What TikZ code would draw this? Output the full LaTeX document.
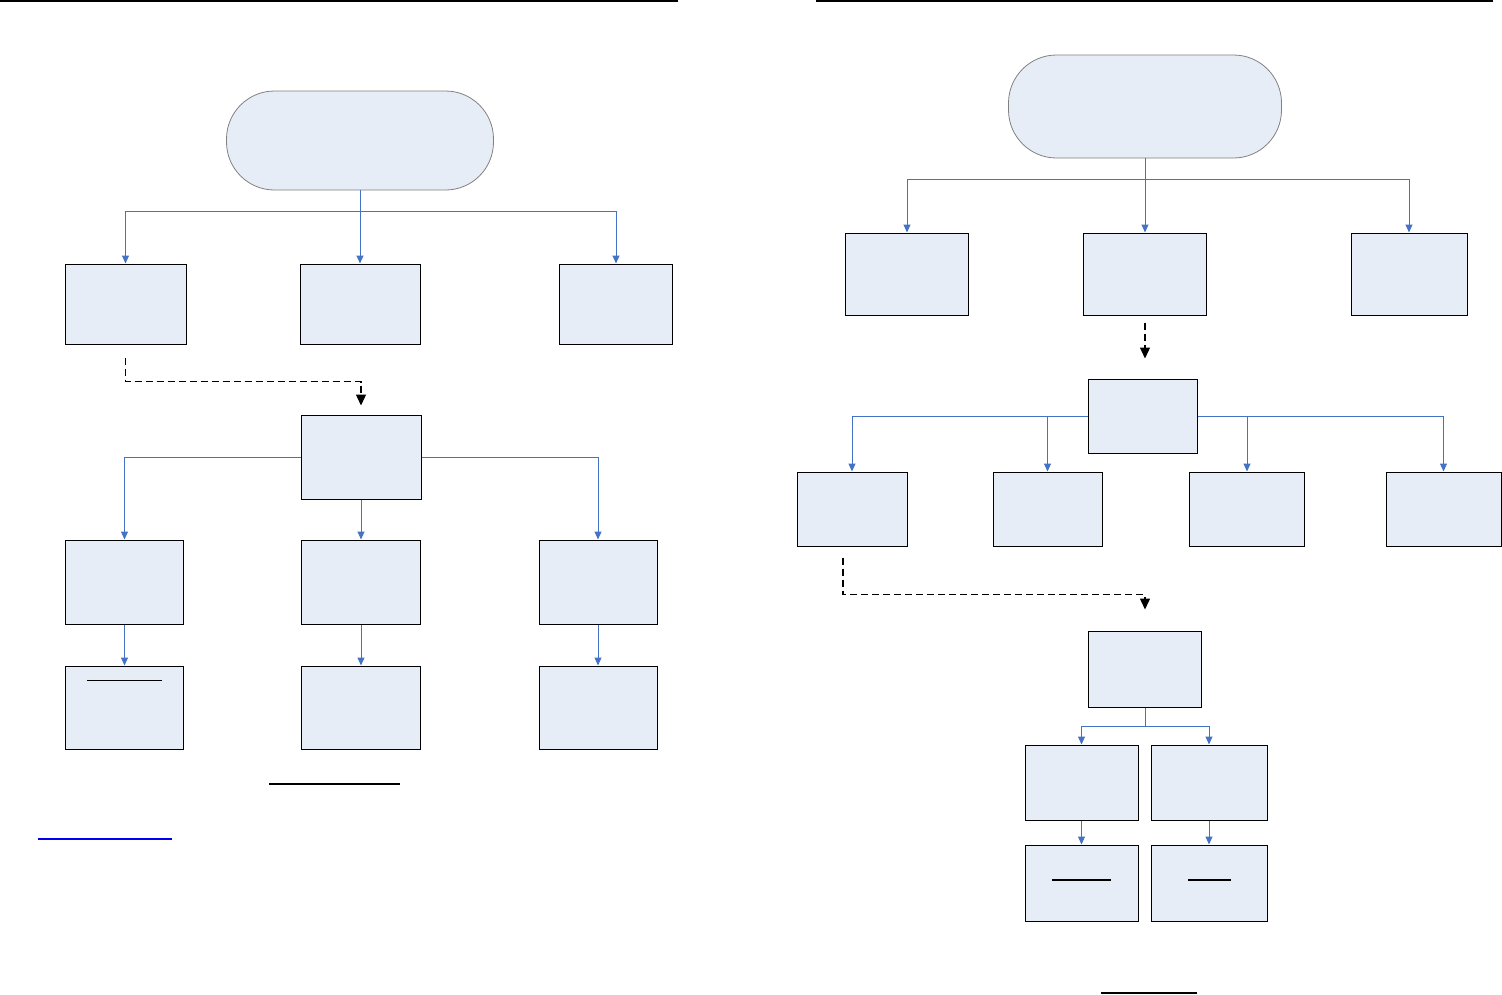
\documentclass[tikz,border=0pt]{standalone}
\usepackage{tikz}
\usetikzlibrary{arrows.meta}
\usepackage{xcolor}

\definecolor{fond}{HTML}{E7EDF7}
\definecolor{bleu}{HTML}{4472C4}
\definecolor{lien}{HTML}{0000EE}

\begin{document}
\begin{tikzpicture}[x=1pt,y=-1pt,
			boite/.style={draw=black,line width=1pt,fill=fond,inner sep=0pt},
			ovale/.style={draw=gray,line width=0.8pt,fill=fond,rounded corners=48pt,inner sep=0pt},
			fleche/.style={draw=bleu,line width=1pt,-{Triangle[width=7pt,length=8pt]}},
			pointille/.style={draw=black,line width=1.3pt,dash pattern=on 7pt off 4pt,-{Triangle[width=10pt,length=11pt]}},
			souligne/.style={draw=black,line width=1.3pt}]
			\useasboundingbox (0,0) rectangle (1502,994);
			\coordinate (h1) at (0,1);
			\coordinate (h2) at (678,1);
			\coordinate (h3) at (816,1);
			\coordinate (h4) at (1493,1);
			\draw[souligne] (h1) -- (h2);
			\draw[souligne] (h3) -- (h4);
			\node[ovale,minimum width=267pt,minimum height=99pt] (s1) at (360,140.5) {};
			\node[ovale,minimum width=273pt,minimum height=103pt] (s2) at (1145,106.5) {};
			\foreach \Nom/\X/\Y/\L/\H in {b1/125.5/304/121/80, b2/360/304/120/80, b3/616/304/113/80,
					m1/361/457/120/84,
					c1/124.5/582/118/84, c2/361/582/119/84, c3/598/582/118/84,
					d1/124.5/707.5/118/83, d2/361/707.5/119/83, d3/598/707.5/118/83,
					e1/907/274/123/82, e2/1145/274/123/82, e3/1409/274/116/82,
					f/1143/416/109/74,
					g1/852/509/110/74, g2/1047.5/509/109/74, g3/1247/509/115/74, g4/1443.5/509/115/74,
					h/1145/669/113/76,
					i1/1081.5/782.5/113/75, i2/1209/782.5/116/75,
					j1/1081.5/883/113/76, j2/1209/883/116/76}
				\node[boite,minimum width=\L pt,minimum height=\H pt] (\Nom) at (\X,\Y) {};
			\draw[fleche] (s1.south) -- ++(0,21) -| (b1.north);
			\draw[fleche] (s1.south) -- (b2.north);
			\draw[fleche] (s1.south) -- ++(0,21) -| (b3.north);
			\draw[pointille] ([yshift=-13pt]b1.south) -- ++(0,24) -| ([yshift=9pt]m1.north);
			\draw[fleche] (m1.west) -| (c1.north);
			\draw[fleche] (m1.south) -- (c2.north);
			\draw[fleche] (m1.east) -| (c3.north);
			\foreach \Nombre in {1,2,3}
				\draw[fleche] (c\Nombre.south) -- (d\Nombre.north);
			\draw[souligne] ([xshift=-37.5pt,yshift=-15pt]d1.north) -- ++(75,0);
			\draw[souligne] (269,784) -- (400,784);
			\draw[lien,line width=1.3pt] (38,839) -- (172,839);
			\draw[fleche] (s2.south) -- ++(0,21) -| (e1.north);
			\draw[fleche] (s2.south) -- (e2.north);
			\draw[fleche] (s2.south) -- ++(0,21) -| (e3.north);
			\draw[pointille] ([yshift=-7pt]e2.south) -- ++(0,36);
			\draw[fleche] (f.west) -| (g1.north);
			\draw[fleche] (f.west -| g2.north) -- (g2.north);
			\draw[fleche] (f.east -| g3.north) -- (g3.north);
			\draw[fleche] (f.east) -| (g4.north);
			\draw[pointille] ([xshift=-9pt,yshift=-11pt]g1.south) -- ++(0,37) -| ([yshift=21pt]h.north);
			\draw[fleche] (h.south) -- ++(0,19) -| (i1.north);
			\draw[fleche] (h.south) -- ++(0,19) -| (i2.north);
			\foreach \Nombre in {1,2}
				\draw[fleche] (i\Nombre.south) -- (j\Nombre.north);
			\draw[souligne] ([xshift=-29.5pt,yshift=3pt]j1.center) -- ++(59,0);
			\draw[souligne] ([xshift=-21pt,yshift=3pt]j2.center) -- ++(43,0);
			\draw[souligne] (1101,993) -- (1197,993);
		\end{tikzpicture}
\end{document}
